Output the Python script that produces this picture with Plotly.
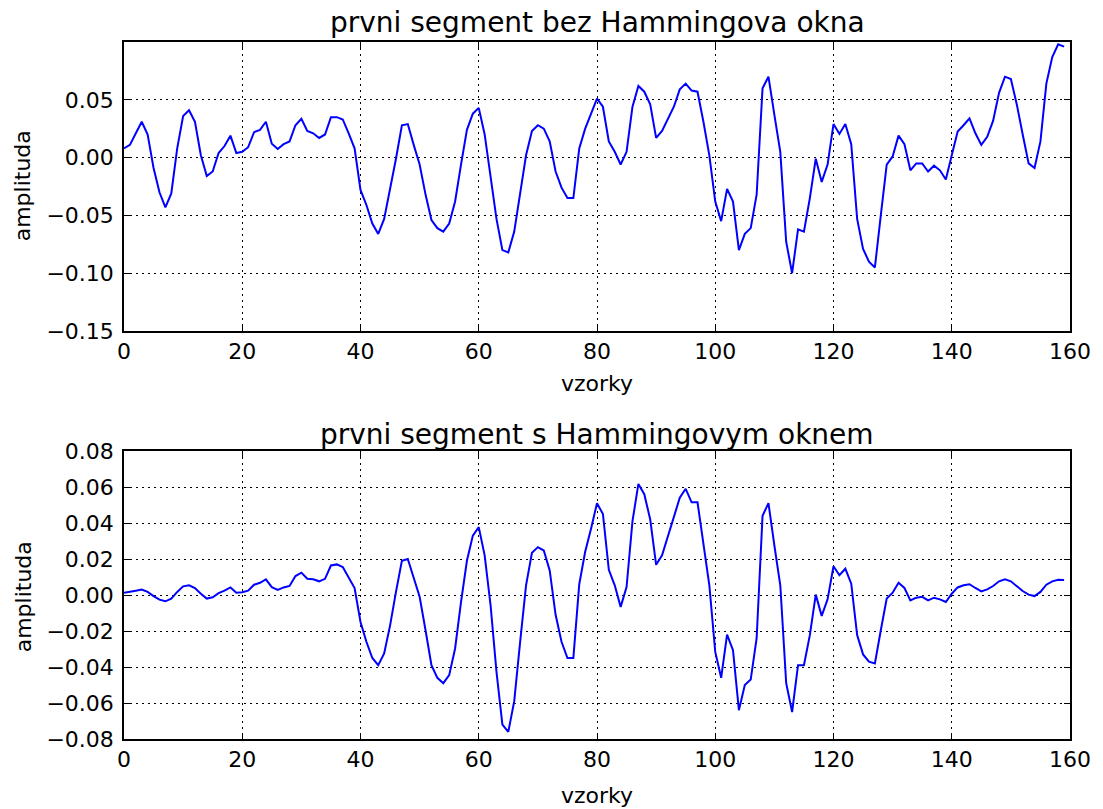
import plotly.graph_objects as go

samples = list(range(160))

segment_raw = [
    0.008, 0.011, 0.021, 0.031, 0.020, -0.009, -0.030, -0.043, -0.031, 0.008,
    0.036, 0.041, 0.031, 0.002, -0.016, -0.012, 0.004, 0.010, 0.019, 0.004,
    0.005, 0.009, 0.022, 0.024, 0.031, 0.012, 0.0075, 0.0116, 0.014, 0.028,
    0.0335, 0.023, 0.021, 0.017, 0.020, 0.035, 0.035, 0.033, 0.021, 0.008,
    -0.028, -0.041, -0.057, -0.066, -0.053, -0.028, -0.001, 0.028, 0.029, 0.011,
    -0.006, -0.032, -0.054, -0.061, -0.064, -0.057, -0.038, -0.006, 0.024, 0.038,
    0.043, 0.020, -0.018, -0.053, -0.080, -0.082, -0.064, -0.032, 0.002, 0.023,
    0.028, 0.025, 0.014, -0.012, -0.026, -0.035, -0.035, 0.008, 0.025, 0.038,
    0.051, 0.044, 0.014, 0.005, -0.006, 0.005, 0.044, 0.062, 0.057, 0.046,
    0.017, 0.023, 0.034, 0.044, 0.059, 0.064, 0.058, 0.057, 0.031, 0.002,
    -0.038, -0.055, -0.027, -0.038, -0.080, -0.066, -0.061, -0.032, 0.060, 0.070,
    0.037, 0.005, -0.073, -0.100, -0.062, -0.064, -0.035, -0.001, -0.021, -0.006,
    0.029, 0.0205, 0.029, 0.0116, -0.053, -0.079, -0.090, -0.095, -0.050, -0.006,
    0.001, 0.019, 0.0116, -0.011, -0.005, -0.005, -0.012, -0.007, -0.011, -0.019,
    0.002, 0.0225, 0.028, 0.034, 0.021, 0.011, 0.018, 0.032, 0.056, 0.070,
    0.068, 0.046, 0.020, -0.005, -0.009, 0.014, 0.064, 0.087, 0.098, 0.096,
]

segment_hamming = [
    0.0013, 0.0017, 0.0024, 0.003, 0.0017, -0.0006, -0.0026, -0.0035, -0.002, 0.0017,
    0.0048, 0.0054, 0.0039, 0.0007, -0.002, -0.0013, 0.001, 0.0024, 0.0042, 0.0013,
    0.0015, 0.0024, 0.0057, 0.0068, 0.0087, 0.0044, 0.0028, 0.0042, 0.005, 0.0105,
    0.0124, 0.009, 0.0087, 0.0076, 0.009, 0.0164, 0.017, 0.0155, 0.010, 0.0039,
    -0.015, -0.026, -0.035, -0.039, -0.0325, -0.017, 0.0017, 0.019, 0.020, 0.009,
    -0.001, -0.0196, -0.039, -0.046, -0.049, -0.0445, -0.0297, -0.004, 0.019, 0.033,
    0.0377, 0.022, -0.0057, -0.0427, -0.072, -0.076, -0.059, -0.026, 0.0054, 0.0235,
    0.0266, 0.0247, 0.0137, -0.011, -0.026, -0.035, -0.035, 0.006, 0.024, 0.037,
    0.051, 0.045, 0.014, 0.0054, -0.0066, 0.0044, 0.041, 0.0617, 0.056, 0.042,
    0.0168, 0.022, 0.0327, 0.044, 0.054, 0.059, 0.0515, 0.0515, 0.0275, 0.0054,
    -0.0316, -0.046, -0.022, -0.0307, -0.064, -0.050, -0.047, -0.024, 0.044, 0.051,
    0.0275, 0.0054, -0.049, -0.065, -0.039, -0.039, -0.0223, 0.0002, -0.0116, -0.0024,
    0.016, 0.011, 0.0146, 0.0063, -0.0223, -0.033, -0.037, -0.038, -0.0196, -0.002,
    0.0013, 0.0068, 0.0039, -0.003, -0.0015, -0.001, -0.003, -0.0015, -0.0024, -0.0039,
    0.0007, 0.0042, 0.0054, 0.006, 0.0039, 0.002, 0.0031, 0.005, 0.0076, 0.0087,
    0.0076, 0.005, 0.0022, 0.0002, -0.0006, 0.0017, 0.0057, 0.0076, 0.0085, 0.0083,
]

x_ticks = [0, 20, 40, 60, 80, 100, 120, 140, 160]
y_ticks_top = [-0.15, -0.10, -0.05, 0.00, 0.05]
y_ticks_bottom = [-0.08, -0.06, -0.04, -0.02, 0.00, 0.02, 0.04, 0.06, 0.08]

title_top = "prvni segment bez Hammingova okna"
title_bottom = "prvni segment s Hammingovym oknem"
x_label = "vzorky"
y_label = "amplituda"

FONT = "DejaVu Sans"
LINE = dict(color="#0000ff", width=2)

fig = go.Figure()
fig.add_trace(go.Scatter(x=samples, y=segment_raw, mode="lines", line=LINE,
                         xaxis="x", yaxis="y", showlegend=False, hoverinfo="skip"))
fig.add_trace(go.Scatter(x=samples, y=segment_hamming, mode="lines", line=LINE,
                         xaxis="x2", yaxis="y2", showlegend=False, hoverinfo="skip"))

axis_common = dict(
    showline=True, linecolor="black", linewidth=1.5, mirror="allticks",
    ticks="inside", ticklen=6, tickcolor="black", tickwidth=1,
    showgrid=True, gridcolor="black", griddash="2px,4px", gridwidth=1,
    zeroline=False, tickfont=dict(family=FONT, size=22, color="black"),
)

W, H = 1103, 809
# plot frame at x 124..1073, y 42..739 (page pixels)
PL, PR, PT, PB = 124, 1073, 42, 739
PH = PB - PT
PW = PR - PL

def py(p):
    return (PB - p) / PH

dom_top = [py(331), 1.0]
dom_bot = [0.0, py(451)]

fig.update_layout(
    width=W, height=H,
    margin=dict(l=PL, r=W - PR, t=PT, b=H - PB),
    paper_bgcolor="white", plot_bgcolor="white",
    font=dict(family=FONT, color="black"),
    xaxis=dict(domain=[0, 1], anchor="y", range=[0, 160], tickvals=x_ticks, **axis_common),
    yaxis=dict(domain=dom_top, anchor="x", range=[-0.15, 0.1], tickvals=y_ticks_top,
               tickformat=".2f", ticklabelstandoff=4, **axis_common),
    xaxis2=dict(domain=[0, 1], anchor="y2", range=[0, 160], tickvals=x_ticks, **axis_common),
    yaxis2=dict(domain=dom_bot, anchor="x2", range=[-0.08, 0.08], tickvals=y_ticks_bottom,
                tickformat=".2f", ticklabelstandoff=4, **axis_common),
)

def ann(text, x, y, size, angle=0):
    fig.add_annotation(text=text, x=x, y=y, xref="paper", yref="paper", showarrow=False,
                       xanchor="center", yanchor="middle", textangle=angle,
                       font=dict(family=FONT, size=size, color="black"))

ann(title_top, 0.5, py(23), 28)
ann(title_bottom, 0.5, py(434), 28)
ann(x_label, 0.5, py(383), 22)
ann(x_label, 0.5, py(795), 22)
ann(y_label, (23 - PL) / PW, py(186), 22, angle=-90)
ann(y_label, (23 - PL) / PW, py(597), 22, angle=-90)

fig.write_html("out.html", config={"displayModeBar": False},
               post_script="document.body.style.margin='0';")
